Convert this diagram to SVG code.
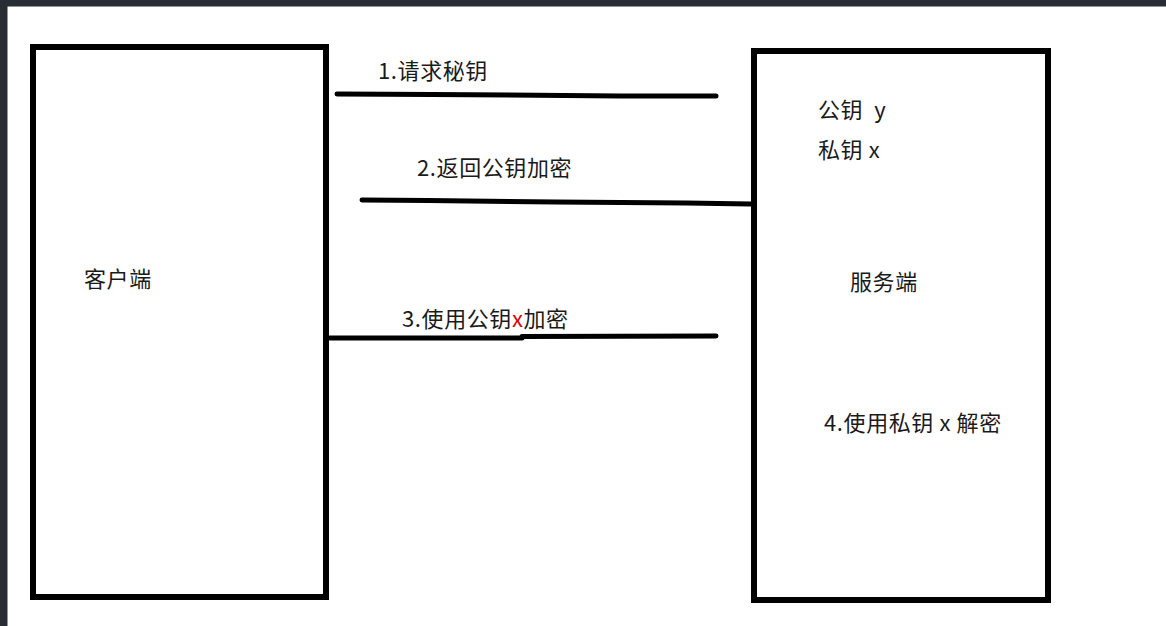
<svg xmlns="http://www.w3.org/2000/svg" width="1166" height="626" viewBox="0 0 1166 626">
<style>
.box{fill:#fff;stroke:#000;stroke-width:6}
.ln{fill:none;stroke:#000;stroke-width:5;stroke-linecap:round;stroke-linejoin:round}
.t{font-family:"Noto Sans CJK SC","Liberation Sans",sans-serif;font-size:22px;letter-spacing:0.6px;fill:#1a1a1a}
</style>
<rect width="1166" height="626" fill="#fff"/>
<rect x="0" y="0" width="1166" height="6.5" fill="#282c34"/>
<rect x="0" y="0" width="7.5" height="626" fill="#282c34"/>
<g id="client">
<rect class="box" x="33" y="47" width="293" height="550"/>
<text class="t" x="84" y="287">客户端</text>
</g>
<g id="server">
<rect class="box" x="754" y="51" width="294" height="549"/>
<text class="t" x="818" y="118" xml:space="preserve">公钥  y</text>
<text class="t" x="818" y="158">私钥 x</text>
<text class="t" x="850" y="290">服务端</text>
<text class="t" x="824" y="431">4.使用私钥 x 解密</text>
</g>
<g id="connectors">
<polyline class="ln" points="337,94 432,94.5 620,96 716,96"/>
<polyline class="ln" points="362,200 428,200.5 556,202 686,203 751,204"/>
<polyline class="ln" points="330,338 522,338 522,336.5 716,336"/>
<text class="t" x="378" y="79">1.请求秘钥</text>
<text class="t" x="417" y="176">2.返回公钥加密</text>
<text class="t" x="402" y="327">3.使用公钥<tspan fill="#e00000">x</tspan>加密</text>
</g>
</svg>
